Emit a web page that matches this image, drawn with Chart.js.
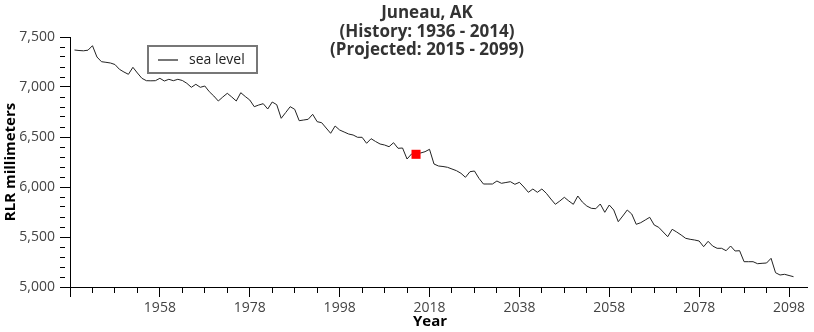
<!DOCTYPE html>
<html><head><meta charset="utf-8">
<script src="https://cdn.jsdelivr.net/npm/chart.js@4.4.1/dist/chart.umd.min.js"></script>
<style>html,body{margin:0;padding:0;background:#fff;}#wrap{width:814px;height:332px;}</style>
</head><body><div id="wrap"><canvas id="c" width="814" height="332"></canvas></div>
<script>
const chartTitle = ['Juneau, AK', '(History: 1936 - 2014)', '(Projected: 2015 - 2099)'];
const seriesLabel = 'sea level';
const xAxisTitle = 'Year';
const yAxisTitle = 'RLR millimeters';
const firstYear = 1939;
const seaLevel = [
  7370, 7365, 7362, 7368, 7413, 7300, 7253, 7247, 7240, 7225,
  7177, 7150, 7127, 7197, 7140, 7087, 7063, 7062, 7063, 7087,
  7060, 7077, 7063, 7077, 7065, 7037, 6997, 7027, 6997, 7010,
  6953, 6910, 6860, 6900, 6937, 6900, 6860, 6943, 6905, 6870,
  6803, 6820, 6833, 6780, 6850, 6823, 6687, 6745, 6803, 6777,
  6663, 6670, 6677, 6727, 6653, 6643, 6590, 6537, 6610, 6570,
  6550, 6530, 6520, 6497, 6497, 6437, 6483, 6455, 6430, 6420,
  6403, 6443, 6387, 6390, 6280, 6330, 6327, 6340, 6353, 6377,
  6230, 6210, 6205, 6197, 6180, 6163, 6137, 6097, 6153, 6160,
  6087, 6030, 6030, 6030, 6060, 6037, 6045, 6053, 6027, 6047,
  6000, 5947, 5980, 5947, 5980, 5937, 5880, 5827, 5860, 5897,
  5860, 5827, 5910, 5850, 5810, 5787, 5783, 5830, 5747, 5820,
  5770, 5653, 5710, 5770, 5730, 5627, 5643, 5670, 5697, 5620,
  5597, 5550, 5503, 5577, 5550, 5520, 5487, 5477, 5470, 5460,
  5403, 5457, 5410, 5387, 5387, 5363, 5410, 5360, 5363, 5253,
  5253, 5253, 5233, 5237, 5240, 5287, 5143, 5120, 5127, 5115,
  5103
];
const years = seaLevel.map((_, i) => firstYear + i);
const markerYear = 2015;
const xMin = 1938, xMax = 2102;
const xTickYears = [];
for (let y = 1938; y <= 2098; y += 5) xTickYears.push(y);
const xLabelYears = [1958, 1978, 1998, 2018, 2038, 2058, 2078, 2098];
const yMin = 5000, yMax = 7500;
const yTickValues = [];
for (let v = yMin; v <= yMax; v += 100) yTickValues.push(v);
const yLabelValues = [5000, 5500, 6000, 6500, 7000, 7500];

const FONT = 'Open Sans';

const overlay = {
  id: 'overlay',
  afterDraw(chart) {
    const ctx = chart.ctx;
    ctx.save();
    ctx.fillStyle = '#333';
    ctx.font = 'bold 17px "' + FONT + '"';
    ctx.textAlign = 'center';
    ctx.textBaseline = 'middle';
    const ty = [13, 32, 50];
    chartTitle.forEach((t, i) => ctx.fillText(t, 427, ty[i]));
    // x axis title
    ctx.fillStyle = '#000';
    ctx.font = 'bold 15px "' + FONT + '"';
    ctx.fillText(xAxisTitle, 430, 322);
    // legend box
    ctx.fillStyle = '#fff';
    ctx.fillRect(148, 46, 109, 27);
    ctx.strokeStyle = '#777';
    ctx.lineWidth = 2;
    ctx.strokeRect(148, 46, 109, 27);
    ctx.beginPath();
    ctx.moveTo(158, 60); ctx.lineTo(178, 60);
    ctx.stroke();
    ctx.fillStyle = '#222';
    ctx.font = '14px "' + FONT + '"';
    ctx.textAlign = 'left';
    ctx.fillText(seriesLabel, 189, 60);
    ctx.restore();
  }
};

const lineData = years.map((y, i) => ({ x: y, y: seaLevel[i] }));
const markerData = [{ x: markerYear, y: seaLevel[years.indexOf(markerYear)] }];

new Chart(document.getElementById('c'), {
  type: 'line',
  data: {
    datasets: [
      { label: 'marker', data: markerData, showLine: false, pointStyle: 'rect',
        pointRadius: 6.4, pointBackgroundColor: '#ff0000', pointBorderWidth: 0, borderWidth: 0 },
      { label: seriesLabel, data: lineData, borderColor: '#222', borderWidth: 1,
        pointRadius: 0, tension: 0, fill: false }
    ]
  },
  options: {
    responsive: false,
    animation: false,
    devicePixelRatio: 1,
    layout: { padding: { top: 37, right: 7, left: 0, bottom: 0 } },
    plugins: { legend: { display: false }, tooltip: { enabled: false }, title: { display: false } },
    scales: {
      x: {
        type: 'linear', min: xMin, max: xMax,
        afterBuildTicks: s => { s.ticks = xTickYears.map(v => ({ value: v })); },
        afterFit: s => { s.height = 45; },
        border: { display: true, color: '#000', width: 1 },
        grid: {
          drawOnChartArea: false, drawTicks: true, tickLength: 10, tickColor: '#000', tickWidth: 1,
          tickBorderDash: c => (c.tick && (c.tick.value - 1938) % 20 === 0) ? [] : [5, 30]
        },
        ticks: {
          autoSkip: false, maxRotation: 0, padding: 3, color: '#444',
          font: { family: FONT, size: 14 },
          callback: v => xLabelYears.includes(v) ? String(v) : ''
        },
        title: { display: false }
      },
      y: {
        min: yMin, max: yMax,
        afterBuildTicks: s => { s.ticks = yTickValues.map(v => ({ value: v })); },
        afterFit: s => { s.width = 70; },
        border: { display: true, color: '#000', width: 1 },
        grid: {
          drawOnChartArea: false, drawTicks: true, tickLength: 10, tickColor: '#000', tickWidth: 1,
          tickBorderDash: c => (c.tick && yLabelValues.includes(c.tick.value)) ? [] : [5, 30]
        },
        ticks: {
          autoSkip: false, padding: 5, color: '#444',
          font: { family: FONT, size: 14 },
          callback: v => yLabelValues.includes(v) ? v.toLocaleString('en-US') : ''
        },
        title: { display: true, text: yAxisTitle, color: '#000',
          font: { family: FONT, size: 15, weight: 'bold' }, padding: { top: 2, bottom: 0 } }
      }
    }
  },
  plugins: [overlay]
});
</script>
</body></html>
